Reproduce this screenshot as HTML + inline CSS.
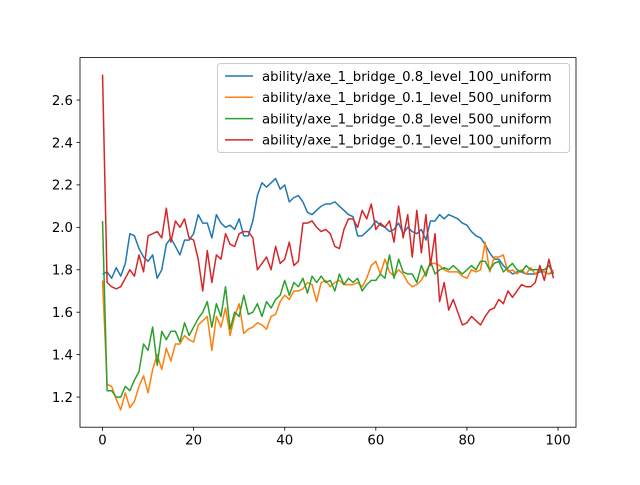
<!DOCTYPE html>
<html><head><meta charset="utf-8"><style>
body{margin:0;background:#fff}
svg text{font-family:"DejaVu Sans","Liberation Sans",sans-serif;font-size:13.3px;fill:#000}
</style></head><body>
<svg id="chart" width="640" height="480" xmlns="http://www.w3.org/2000/svg">
<rect width="640" height="480" fill="#fff"/>
<g id="plot"></g>
</svg>
<script>
const xTicks=[0,20,40,60,80,100];
const yTicks=[1.2,1.4,1.6,1.8,2.0,2.2,2.4,2.6];
const yTickLabels=["1.2","1.4","1.6","1.8","2.0","2.2","2.4","2.6"];
const seriesNames=["ability/axe_1_bridge_0.8_level_100_uniform","ability/axe_1_bridge_0.1_level_500_uniform","ability/axe_1_bridge_0.8_level_500_uniform","ability/axe_1_bridge_0.1_level_100_uniform"];
const blue=[1.78,1.79,1.76,1.81,1.77,1.83,1.97,1.96,1.90,1.86,1.84,1.87,1.76,1.80,1.92,1.95,1.91,1.87,1.94,1.94,1.97,2.06,2.02,2.02,1.95,2.06,2.02,2.00,2.01,1.99,2.04,1.96,1.96,2.03,2.15,2.21,2.19,2.21,2.23,2.18,2.20,2.12,2.14,2.15,2.12,2.07,2.06,2.08,2.10,2.11,2.11,2.12,2.10,2.08,2.06,2.05,1.96,1.96,1.98,2.00,2.03,2.01,2.00,1.98,1.99,2.02,1.97,2.00,1.98,1.97,1.99,1.94,2.03,2.03,2.06,2.04,2.06,2.05,2.04,2.02,2.01,1.98,1.96,1.95,1.92,1.88,1.85,1.85,1.82,1.80,1.78,1.79,1.79,1.78,1.78,1.78,1.79,1.79,1.78,1.79];
const orange=[1.75,1.26,1.25,1.19,1.14,1.22,1.15,1.18,1.25,1.30,1.22,1.33,1.40,1.33,1.43,1.37,1.45,1.45,1.49,1.47,1.46,1.54,1.56,1.58,1.42,1.58,1.53,1.62,1.49,1.58,1.64,1.50,1.52,1.53,1.55,1.54,1.52,1.58,1.59,1.65,1.68,1.66,1.70,1.70,1.71,1.74,1.73,1.65,1.74,1.75,1.72,1.74,1.75,1.73,1.73,1.73,1.74,1.72,1.76,1.82,1.84,1.78,1.85,1.79,1.77,1.80,1.78,1.74,1.72,1.73,1.75,1.79,1.83,1.83,1.82,1.80,1.79,1.79,1.79,1.77,1.76,1.80,1.79,1.80,1.93,1.79,1.86,1.86,1.87,1.79,1.80,1.78,1.80,1.78,1.81,1.78,1.80,1.79,1.78,1.80];
const green=[2.03,1.23,1.23,1.20,1.20,1.25,1.23,1.28,1.32,1.45,1.42,1.53,1.35,1.51,1.47,1.51,1.51,1.46,1.55,1.49,1.53,1.57,1.60,1.65,1.53,1.64,1.58,1.72,1.52,1.60,1.58,1.68,1.59,1.60,1.64,1.58,1.65,1.62,1.66,1.68,1.75,1.68,1.74,1.72,1.76,1.69,1.77,1.74,1.77,1.74,1.75,1.70,1.78,1.73,1.76,1.74,1.76,1.70,1.73,1.75,1.75,1.78,1.76,1.87,1.76,1.85,1.79,1.78,1.78,1.74,1.82,1.77,1.84,1.78,1.80,1.81,1.80,1.82,1.80,1.78,1.80,1.82,1.80,1.84,1.84,1.80,1.83,1.84,1.79,1.81,1.83,1.80,1.79,1.82,1.80,1.80,1.80,1.80,1.82,1.78];
const red=[2.72,1.74,1.72,1.71,1.72,1.76,1.80,1.77,1.87,1.79,1.96,1.97,1.98,1.95,2.09,1.93,2.03,2.00,2.04,1.95,1.94,1.85,1.70,1.89,1.74,1.87,1.85,1.97,1.92,1.91,1.97,1.98,1.98,1.95,1.80,1.83,1.86,1.80,1.91,1.83,1.85,1.93,1.82,1.84,2.02,2.02,2.03,2.00,1.98,1.99,1.97,1.91,1.90,1.99,2.04,2.04,2.00,2.08,2.04,2.11,1.99,2.02,2.00,2.03,1.93,2.10,1.95,2.06,1.86,2.08,1.88,2.06,1.82,1.97,1.65,1.74,1.61,1.66,1.60,1.54,1.55,1.58,1.56,1.54,1.58,1.61,1.62,1.66,1.64,1.70,1.67,1.70,1.73,1.72,1.72,1.74,1.82,1.75,1.85,1.76];
const colors=["#1f77b4","#ff7f0e","#2ca02c","#d62728"];
const L=80,R=576,T=57.6,B=427.2,xmin=-4.95,xmax=103.95,ymin=1.058,ymax=2.80;
const xs=v=>L+(v-xmin)/(xmax-xmin)*(R-L);
const ys=v=>B-(v-ymin)/(ymax-ymin)*(B-T);
const NS="http://www.w3.org/2000/svg";
const g=document.getElementById('plot');
function mk(t,a,p){const e=document.createElementNS(NS,t);for(const k in a)e.setAttribute(k,a[k]);(p||g).appendChild(e);return e;}
const series=[blue,orange,green,red];
const sNames=["series-blue","series-orange","series-green","series-red"];
series.forEach((d,i)=>{
  const pts=d.map((v,j)=>xs(j).toFixed(2)+","+ys(v).toFixed(2)).join(" ");
  const pl=mk('polyline',{points:pts,fill:'none',stroke:colors[i],'stroke-width':1.5,'stroke-linejoin':'round'});
  
  
});
const frame=mk('rect',{x:L,y:T,width:R-L,height:B-T,fill:'none',stroke:'#000','stroke-width':0.8});


xTicks.forEach(v=>{
  const x=xs(v);
  mk('line',{x1:x,x2:x,y1:B,y2:B+3.5,stroke:'#000','stroke-width':0.8});
  const t=mk('text',{x:x,y:B+17.5,'text-anchor':'middle'});t.textContent=v;
  
  
});
yTicks.forEach((v,i)=>{
  const y=ys(v);
  mk('line',{x1:L-3.5,x2:L,y1:y,y2:y,stroke:'#000','stroke-width':0.8});
  const t=mk('text',{x:L-7,y:y+4.8,'text-anchor':'end'});t.textContent=yTickLabels[i];
  
  
});
const lg=mk('g',{});


mk('rect',{x:217.5,y:63.5,width:352,height:89,rx:3,fill:'#fff','fill-opacity':0.8,stroke:'#ccc','stroke-width':1},lg);
seriesNames.forEach((n,i)=>{
  const y=76+i*21.3;
  mk('line',{x1:225,x2:253,y1:y,y2:y,stroke:colors[i],'stroke-width':1.5},lg);
  const t=mk('text',{x:262,y:y+4.8},lg);t.textContent=n;
  
  
});
</script>
</body></html>
